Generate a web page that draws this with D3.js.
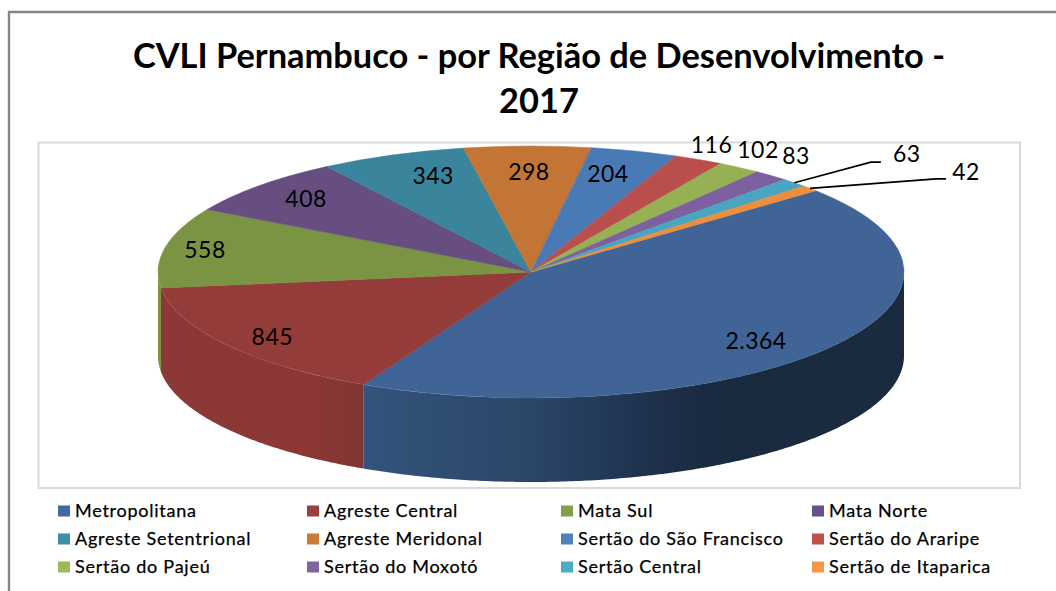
<!DOCTYPE html>
<html>
<head>
<meta charset="utf-8">
<script src="https://cdnjs.cloudflare.com/ajax/libs/d3/7.8.5/d3.min.js"></script>
<style>
  html, body { margin: 0; padding: 0; background: #fff; }
  svg { display: block; font-family: Lato, "Open Sans", sans-serif; }
</style>
</head>
<body>
<div id="chart"></div>
<script>
// data
const regions = ["Metropolitana", "Agreste Central", "Mata Sul", "Mata Norte",
  "Agreste Setentrional", "Agreste Meridonal", "Sertão do São Francisco", "Sertão do Araripe",
  "Sertão do Pajeú", "Sertão do Moxotó", "Sertão Central", "Sertão de Itaparica"];
const cvli = [2364, 845, 558, 408, 343, 298, 204, 116, 102, 83, 63, 42];
const cvliLabels = ["2.364", "845", "558", "408", "343", "298", "204", "116", "102", "83", "63", "42"];
const titleLines = ["CVLI Pernambuco - por Região de Desenvolvimento -", "2017"];

// colours
const topColours = ["#406496", "#943c3a", "#7a9443", "#664f80", "#3a859b", "#c27535",
  "#4a7ab5", "#b94e4c", "#95b153", "#7d609f", "#4aa5c0", "#eb8e3d"];
const legendColours = ["#4169a0", "#9c403d", "#829f4a", "#6a5088", "#3e8fa6", "#cc7a36",
  "#4f81bd", "#c0504d", "#9bbb59", "#8064a2", "#4bacc6", "#f79646"];

// label nudges from the slice centroid, the excel layout is not regular
const labelNudge = [[-24, 3], [0, 3.5], [-15, -1], [6, 0], [20, 3], [1, 7], [-11, 5],
  [38, -31], [50, -33], [61, -34], [152, -42], [198, -29]];

const width = 1056, height = 591;
const cx = 531, cy = 272, rx = 373, ry = 126, depth = 84;
const startDeg = 49.8;

const svg = d3.select("#chart").append("svg")
  .attr("width", width)
  .attr("height", height);

// outer frame, only top and left are in the crop
svg.append("path")
  .attr("d", `M9,${height}V12H${width}`)
  .attr("fill", "none")
  .attr("stroke", "#868686")
  .attr("stroke-width", 2.4);

// plot area
svg.append("rect")
  .attr("x", 38.5)
  .attr("y", 142.5)
  .attr("width", 981.5)
  .attr("height", 345.5)
  .attr("fill", "#fff")
  .attr("stroke", "#d9d9d9")
  .attr("stroke-width", 2);

// title
svg.selectAll(".title")
  .data(titleLines)
  .enter().append("text")
  .attr("class", "title")
  .attr("x", 539)
  .attr("y", (d, i) => 56 + i * 45)
  .attr("dy", ".35em")
  .attr("text-anchor", "middle")
  .attr("font-size", 34.4)
  .attr("font-weight", 700)
  .attr("fill", "#000")
  .text(d => d);

const pie = d3.pie()
  .value(d => d)
  .sort(null)
  .startAngle(startDeg * Math.PI / 180)
  .endAngle(startDeg * Math.PI / 180 + 2 * Math.PI);

const slices = pie(cvli);

// pie sits on an ellipse, unit circle -> pixels
const x = d3.scaleLinear().domain([-1, 1]).range([cx - rx, cx + rx]);
const y = d3.scaleLinear().domain([-1, 1]).range([cy - ry, cy + ry]);

const rimX = (a, k = 1) => x(Math.sin(a) * k);
const rimY = (a, k = 1) => y(-Math.cos(a) * k);

// side gradients
const defs = svg.append("defs");
const sideStops = {
  0: [[363, "#33547c"], [530, "#2b4668"], [640, "#1f3350"], [705, "#1a2a40"], [904, "#1a2a3f"]],
  1: [[161, "#8c3836"], [310, "#8a3735"], [363, "#813533"]],
  2: [[158, "#7a9443"], [162, "#7a9443"]]
};
Object.keys(sideStops).forEach(function (k) {
  const stops = sideStops[k];
  const grad = defs.append("linearGradient")
    .attr("id", "side" + k)
    .attr("gradientUnits", "userSpaceOnUse")
    .attr("x1", stops[0][0])
    .attr("x2", stops[stops.length - 1][0])
    .attr("y1", 0)
    .attr("y2", 0);
  const span = stops[stops.length - 1][0] - stops[0][0];
  grad.selectAll("stop")
    .data(stops)
    .enter().append("stop")
    .attr("offset", d => (d[0] - stops[0][0]) / span)
    .attr("stop-color", d => d[1]);
});

// side wall, only the front half of the pie shows
function sidePath(d) {
  const a0 = Math.max(d.startAngle, Math.PI / 2);
  const a1 = Math.min(d.endAngle, 3 * Math.PI / 2);
  const angles = d3.range(a0, a1, 0.01).concat([a1]);
  const line = d3.line();
  const upper = angles.map(a => [rimX(a), rimY(a)]);
  const lower = angles.slice().reverse().map(a => [rimX(a), rimY(a) + depth]);
  return line(upper.concat(lower)) + "Z";
}

svg.selectAll(".side")
  .data(slices.filter(d => d.startAngle < 3 * Math.PI / 2 && d.endAngle > Math.PI / 2))
  .enter().append("path")
  .attr("class", "side")
  .attr("d", sidePath)
  .attr("fill", d => `url(#side${d.index})`);

// top face
const arc = d3.arc().innerRadius(0).outerRadius(rx);

svg.append("g")
  .attr("transform", `translate(${cx},${cy}) scale(1,${ry / rx})`)
  .selectAll(".slice")
  .data(slices)
  .enter().append("path")
  .attr("class", "slice")
  .attr("d", arc)
  .attr("fill", d => topColours[d.index])
  .attr("stroke", d => topColours[d.index])
  .attr("stroke-width", 0.5)
  .attr("vector-effect", "non-scaling-stroke");

// data labels
const midAngle = d => (d.startAngle + d.endAngle) / 2;
const labelX = d => rimX(midAngle(d), 0.85) + labelNudge[d.index][0];
const labelY = d => rimY(midAngle(d), 0.85) + labelNudge[d.index][1];

svg.selectAll(".value")
  .data(slices)
  .enter().append("text")
  .attr("class", "value")
  .attr("x", labelX)
  .attr("y", labelY)
  .attr("dy", ".35em")
  .attr("text-anchor", "middle")
  .attr("font-size", 23)
  .attr("letter-spacing", 0.5)
  .attr("fill", "#000")
  .text(d => cvliLabels[d.index]);

// leader lines for the two smallest slices
const leaderEnd = { 10: [-26, 8], 11: [-20, 7] };
svg.selectAll(".leader")
  .data(slices.filter(d => leaderEnd[d.index]))
  .enter().append("path")
  .attr("class", "leader")
  .attr("d", function (d) {
    const ex = labelX(d) + leaderEnd[d.index][0];
    const ey = labelY(d) + leaderEnd[d.index][1];
    return d3.line()([[rimX(midAngle(d)), rimY(midAngle(d))], [ex - 10, ey], [ex, ey]]);
  })
  .attr("fill", "none")
  .attr("stroke", "#000")
  .attr("stroke-width", 1.6);

// legend, 4 columns by 3 rows
const legendCol = d3.scaleOrdinal().domain([0, 1, 2, 3]).range([58, 307, 561, 812]);
const legendRow = d3.scalePoint().domain([0, 1, 2]).range([511, 567]);

const legend = svg.selectAll(".legend")
  .data(regions)
  .enter().append("g")
  .attr("class", "legend")
  .attr("transform", (d, i) => `translate(${legendCol(i % 4)},${legendRow(Math.floor(i / 4))})`);

legend.append("rect")
  .attr("y", -5.5)
  .attr("width", 12)
  .attr("height", 11)
  .attr("fill", (d, i) => legendColours[i]);

legend.append("text")
  .attr("x", 17)
  .attr("dy", ".35em")
  .attr("font-size", 18)
  .attr("letter-spacing", 0.75)
  .attr("stroke", "#000")
  .attr("stroke-width", 0.25)
  .attr("fill", "#000")
  .text(d => d);
</script>
</body>
</html>
